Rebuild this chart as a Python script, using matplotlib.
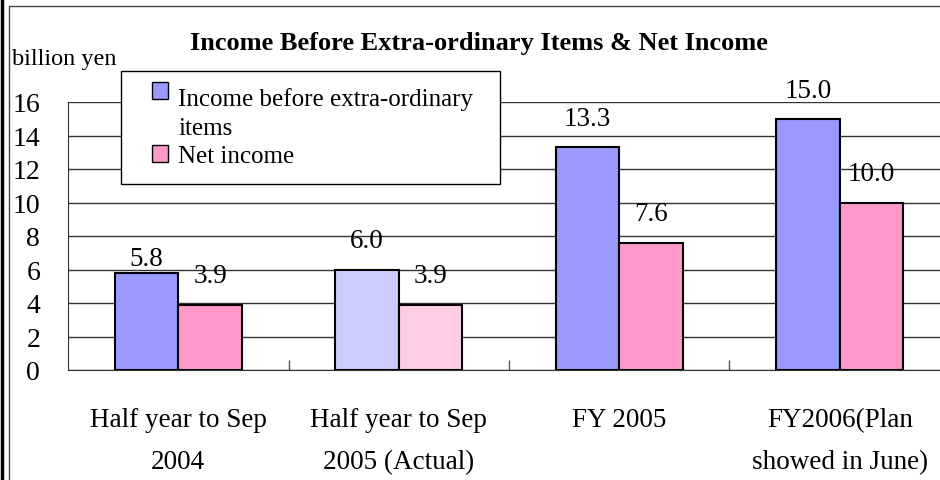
import matplotlib
matplotlib.use("Agg")
import matplotlib.pyplot as plt
from matplotlib.patches import Rectangle
from matplotlib.lines import Line2D

plt.rcParams['font.family'] = ['Liberation Serif', 'DejaVu Serif']

# --- data ---
categories = ["Half year to Sep\n2004", "Half year to Sep\n2005 (Actual)",
              "FY 2005", "FY2006(Plan\nshowed in June)"]
income_before = [5.8, 6.0, 13.3, 15.0]
net_income = [3.9, 3.9, 7.6, 10.0]
blue_colors = ["#9999FF", "#CCCCFF", "#9999FF", "#9999FF"]
pink_colors = ["#FF99CC", "#FFCCE5", "#FF99CC", "#FF99CC"]
legend_labels = ["Income before extra-ordinary\nitems", "Net income"]

W, H = 940, 481


def px(x, y):
    # pixel coords (top-left origin) -> figure fraction
    return x / W, 1 - y / H


fig = plt.figure(figsize=(W / 100, H / 100), dpi=100)
ax = fig.add_axes([68 / W, (H - 371) / H, 882 / W, 268 / H])

bw = 0.288
xs = range(len(categories))
ax.bar([i - bw / 2 for i in xs], income_before, width=bw, color=blue_colors,
       edgecolor="black", linewidth=1.5, zorder=3)
ax.bar([i + bw / 2 for i in xs], net_income, width=bw, color=pink_colors,
       edgecolor="black", linewidth=1.5, zorder=3)

for i in xs:
    # the first label sits lower in the original (excel nudged it)
    dy = 6 if i == 0 else 16
    ax.annotate(f"{income_before[i]:.1f}", (i - bw / 2, income_before[i]),
                xytext=(0, dy), textcoords="offset points", ha="center",
                va="baseline", fontsize=19.5, zorder=4)
    ax.annotate(f"{net_income[i]:.1f}", (i + bw / 2, net_income[i]),
                xytext=(0, 16), textcoords="offset points", ha="center",
                va="baseline", fontsize=19.5, zorder=4)

ax.set_ylim(0, 16)
ax.set_xlim(-0.5, 3.5)
ax.set_yticks(range(0, 17, 2))
ax.yaxis.grid(True, color="#333333", linewidth=1, zorder=0)
ax.tick_params(axis="y", length=0, pad=20, labelsize=20)

ax.set_xticks(list(xs))
ax.set_xticklabels(categories, fontsize=19.5, linespacing=1.85)
ax.set_xticks([0.5, 1.5, 2.5], minor=True)
ax.tick_params(axis="x", which="major", length=0, pad=27)
ax.tick_params(axis="x", which="minor", direction="in", length=7,
               color="#555555", width=1)

for s in ["top", "right"]:
    ax.spines[s].set_visible(False)
for s in ["left", "bottom"]:
    ax.spines[s].set_color("#333333")

# title and unit
fig.text(*px(479, 50), "Income Before Extra-ordinary Items & Net Income",
         ha="center", va="baseline", fontsize=19, fontweight="bold")
fig.text(*px(12, 65), "billion yen", ha="left", va="baseline", fontsize=17.5)

# legend box drawn by hand
x0, y0 = px(121, 185)
x1, y1 = px(500, 72)
fig.add_artist(Rectangle((x0, y0), x1 - x0, y1 - y0, transform=fig.transFigure,
                         facecolor="white", edgecolor="black", linewidth=1,
                         zorder=5))
for (top, bottom), col, lab, base in [((83, 100), blue_colors[0], legend_labels[0], 135),
                                      ((146, 163), pink_colors[0], legend_labels[1], 163)]:
    sx0, sy0 = px(152, bottom)
    sx1, sy1 = px(168, top)
    fig.add_artist(Rectangle((sx0, sy0), sx1 - sx0, sy1 - sy0,
                             transform=fig.transFigure, facecolor=col,
                             edgecolor="black", linewidth=1, zorder=6))
    fig.text(*px(178, base), lab, ha="left", va="baseline", fontsize=18,
             linespacing=1.4, zorder=6)

# frame around the picture (only left and top show)
fig.add_artist(Line2D([1.5 / W, 1.5 / W], [0, 1], transform=fig.transFigure,
                      color="black", linewidth=2.5))
fig.add_artist(Line2D([8.5 / W, 8.5 / W, 1], [0, 1 - 6.5 / H, 1 - 6.5 / H],
                      transform=fig.transFigure, color="#444444", linewidth=1))

fig.savefig("out.png", dpi=100)
